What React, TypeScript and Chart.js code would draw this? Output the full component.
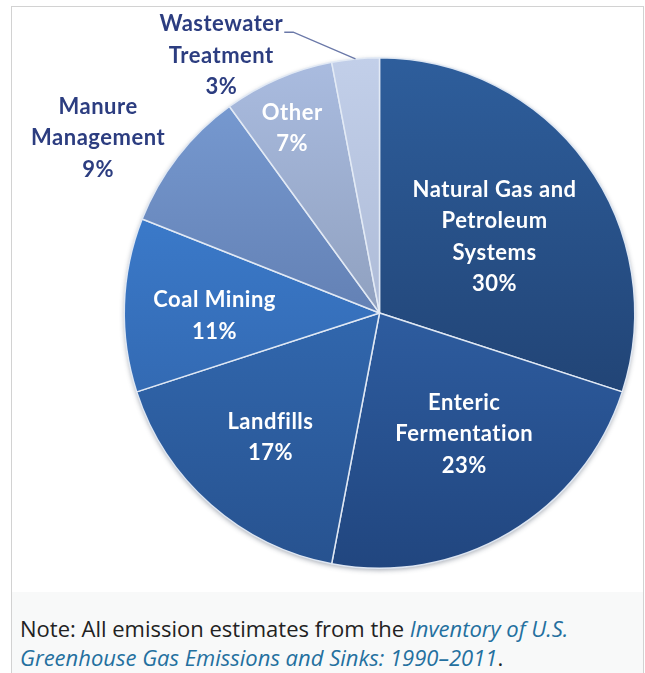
import React, { useEffect, useRef } from "react";
import { Chart, registerables } from "chart.js";

Chart.register(...registerables);

const categories = [
  "Natural Gas and Petroleum Systems",
  "Enteric Fermentation",
  "Landfills",
  "Coal Mining",
  "Manure Management",
  "Other",
  "Wastewater Treatment",
];
const shares = [30, 23, 17, 11, 9, 7, 3];
const labelLines = [
  ["Natural Gas and", "Petroleum", "Systems"],
  ["Enteric", "Fermentation"],
  ["Landfills"],
  ["Coal Mining"],
  ["Manure", "Management"],
  ["Other"],
  ["Wastewater", "Treatment"],
];
const topColors = ["#2e5e9c", "#3a72bf", "#3b7ccc", "#4288de", "#7a9ed6", "#aabce0", "#c2cfe9"];
const bottomColors = ["#1b3762", "#21467f", "#27528f", "#2b5a9c", "#4d6493", "#75859f", "#9aa8c6"];
const labelRadius = [0.542, 0.576, 0.646, 0.646, 1.3, 0.803, 1.186];
const labelAngleShift = [2.3, -4.6, 0, -2.5, -5.8, -1.8, -26.1];
const labelOutside = [false, false, false, false, true, false, true];
const leaderLine = [false, false, false, false, false, false, true];

const FONT_SIZE = 22;
const LINE_H = 31.5;

const labelPlugin = {
  id: "sliceLabels",
  beforeDatasetsDraw(chart: any) {
    const meta = chart.getDatasetMeta(0);
    const a = meta.data[0];
    if (!a) return;
    const { x, y, outerRadius } = a.getProps(["x", "y", "outerRadius"], true);
    const ctx = chart.ctx;
    ctx.save();
    ctx.shadowColor = "rgba(60,70,90,0.45)";
    ctx.shadowBlur = 5;
    ctx.shadowOffsetY = 2;
    ctx.beginPath();
    ctx.arc(x, y, outerRadius, 0, Math.PI * 2);
    ctx.fillStyle = "#d6deec";
    ctx.fill();
    ctx.restore();
  },
  afterDatasetsDraw(chart: any) {
    const meta = chart.getDatasetMeta(0);
    const ctx = chart.ctx;
    ctx.save();
    ctx.font = `bold ${FONT_SIZE}px Lato, "Open Sans", sans-serif`;
    try {
      (ctx as any).letterSpacing = "0.5px";
    } catch (e) {}
    ctx.textAlign = "center";
    ctx.textBaseline = "alphabetic";
    meta.data.forEach((arc: any, i: number) => {
      const { x, y, startAngle, endAngle, outerRadius } = arc.getProps(
        ["x", "y", "startAngle", "endAngle", "outerRadius"],
        true
      );
      const midRaw = (startAngle + endAngle) / 2;
      const mid = midRaw + (labelAngleShift[i] * Math.PI) / 180;
      const px = x + Math.cos(mid) * outerRadius * labelRadius[i];
      const py = y + Math.sin(mid) * outerRadius * labelRadius[i];
      const lines = [...labelLines[i], `${shares[i]}%`];
      const first = py - ((lines.length - 1) / 2) * LINE_H;
      ctx.fillStyle = labelOutside[i] ? "#2c3d80" : "#ffffff";
      lines.forEach((t, k) => {
        ctx.fillText(t, px, first + k * LINE_H + FONT_SIZE * 0.358);
      });
      if (leaderLine[i]) {
        const w = ctx.measureText(lines[0]).width;
        const sx = px + w / 2 + 1;
        const sy = first + FONT_SIZE * 0.358 + 1;
        const ex = x + Math.cos(midRaw) * outerRadius;
        const ey = y + Math.sin(midRaw) * outerRadius;
        ctx.beginPath();
        ctx.moveTo(sx, sy);
        ctx.lineTo(sx + 9, sy);
        ctx.lineTo(ex, ey);
        ctx.strokeStyle = "#6a78a8";
        ctx.lineWidth = 1.3;
        ctx.stroke();
      }
    });
    ctx.restore();
  },
};

function ChartCanvas() {
  const ref = useRef<HTMLCanvasElement>(null);
  useEffect(() => {
    if (!ref.current) return;
    const chart = new Chart(ref.current, {
      type: "pie",
      data: {
        labels: categories,
        datasets: [
          {
            data: shares,
            backgroundColor: (c: any) => {
              const i = c.dataIndex;
              const area = c.chart.chartArea;
              if (!area) return topColors[i];
              const g = c.chart.ctx.createLinearGradient(0, area.top, 0, area.bottom);
              g.addColorStop(0, topColors[i]);
              g.addColorStop(1, bottomColors[i]);
              return g;
            },
            borderColor: "rgba(228,235,246,0.95)",
            borderWidth: 1.5,
          },
        ],
      },
      options: {
        responsive: false,
        animation: false,
        events: [],
        layout: { padding: { top: 50, bottom: 23, left: 111.5, right: 7.5 } },
        plugins: {
          legend: { display: false },
          tooltip: { enabled: false },
        },
      },
      plugins: [labelPlugin],
    });
    return () => chart.destroy();
  }, []);
  return <canvas ref={ref} width={631} height={585} style={{ display: "block" }} />;
}

export default function App() {
  return (
    <div
      style={{
        position: "absolute",
        left: 11,
        top: 6,
        width: 633,
        height: 700,
        boxSizing: "border-box",
        border: "1px solid #d2d2d2",
        background: "#ffffff",
      }}
    >
      <ChartCanvas />
      <div
        style={{
          background: "#f8f9f9",
          height: 120,
          paddingTop: 22,
          paddingLeft: 8,
          boxSizing: "border-box",
          fontFamily: '"Open Sans", sans-serif',
          fontSize: 22,
          lineHeight: "29px",
          color: "#222222",
          whiteSpace: "nowrap",
        }}
      >
        Note: All emission estimates from the{" "}
        <i style={{ color: "#24709f" }}>Inventory of U.S.</i>
        <br />
        <i style={{ color: "#24709f" }}>Greenhouse Gas Emissions and Sinks: 1990–2011</i>.
      </div>
    </div>
  );
}
